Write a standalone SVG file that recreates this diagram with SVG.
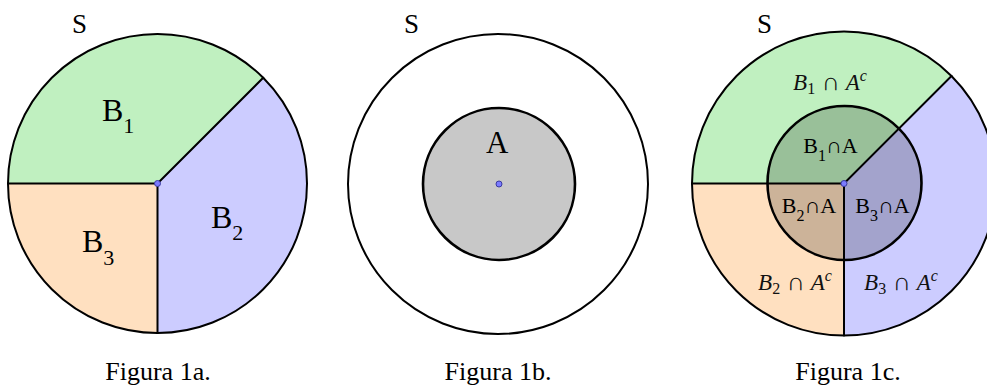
<svg xmlns="http://www.w3.org/2000/svg" width="987" height="388" viewBox="0 0 987 388">
<style>
.edge{fill:none;stroke:#000;stroke-width:2;stroke-linecap:round}
.outer{stroke:#000;stroke-width:2}
.inner{stroke:#000;stroke-width:2.6}
.g{fill:#c0f0c0}.b{fill:#ccccff}.o{fill:#ffe0c0}
.shade{fill:#000;fill-opacity:0.2}
.dot{fill:#7b7bff;stroke:#3a3aa0;stroke-width:1}
.lbl{font-family:"Liberation Serif",serif;fill:#000}
.math{font-family:"Liberation Serif",serif;fill:#111}
.cap{font-family:"Liberation Serif",serif;font-size:26px;fill:#000;text-anchor:middle}
</style>
<rect width="987" height="388" fill="#fff"/>

<g id="fig1a">
  <path class="g" d="M157.5,183.5 L8,183.5 A149.5,149.5 0 0 1 263.2,77.8 Z"/>
  <path class="b" d="M157.5,183.5 L263.2,77.8 A149.5,149.5 0 0 1 157.5,333 Z"/>
  <path class="o" d="M157.5,183.5 L157.5,333 A149.5,149.5 0 0 1 8,183.5 Z"/>
  <circle cx="157.5" cy="183.5" r="149.5" fill="none" class="outer"/>
  <text class="lbl" x="72" y="33" font-size="27">S</text>
  <text class="lbl" x="102" y="121" font-size="32">B<tspan font-size="22" dy="12">1</tspan></text>
  <text class="lbl" x="211" y="228" font-size="32">B<tspan font-size="22" dy="12">2</tspan></text>
  <text class="lbl" x="82" y="252" font-size="32">B<tspan font-size="22" dy="13">3</tspan></text>
</g>

<g id="fig1b">
  <circle cx="498" cy="184" r="150" fill="#fff" class="outer"/>
  <circle cx="499" cy="184" r="76" fill="#c8c8c8" class="inner"/>
  <text class="lbl" x="404" y="33" font-size="27">S</text>
  <text class="lbl" x="486" y="153" font-size="31" fill="#222">A</text>
</g>

<g id="fig1c">
  <path class="g" d="M844,183.5 L692,183.5 A152,152 0 0 1 951.5,76 Z"/>
  <path class="b" d="M844,183.5 L951.5,76 A152,152 0 0 1 844,335.5 Z"/>
  <path class="o" d="M844,183.5 L844,335.5 A152,152 0 0 1 692,183.5 Z"/>
  <circle cx="844" cy="183.5" r="152" fill="none" class="outer"/>
  <circle class="shade" cx="844.5" cy="183" r="77"/>
  <text class="lbl" x="757" y="33" font-size="27">S</text>
  <text class="math" x="830" y="90" font-size="23" text-anchor="middle"><tspan font-style="italic">B</tspan><tspan font-size="16" dy="4">1</tspan><tspan dy="-4" font-size="25"> ∩ </tspan><tspan font-style="italic">A</tspan><tspan font-style="italic" font-size="16" dy="-9">c</tspan></text>
  <text class="math" x="795" y="290" font-size="23" text-anchor="middle"><tspan font-style="italic">B</tspan><tspan font-size="16" dy="4">2</tspan><tspan dy="-4" font-size="25"> ∩ </tspan><tspan font-style="italic">A</tspan><tspan font-style="italic" font-size="16" dy="-9">c</tspan></text>
  <text class="math" x="901" y="290" font-size="23" text-anchor="middle"><tspan font-style="italic">B</tspan><tspan font-size="16" dy="4">3</tspan><tspan dy="-4" font-size="25"> ∩ </tspan><tspan font-style="italic">A</tspan><tspan font-style="italic" font-size="16" dy="-9">c</tspan></text>
  <text class="lbl" x="830.5" y="153" font-size="22" text-anchor="middle">B<tspan font-size="16" dy="8">1</tspan><tspan dy="-8">∩A</tspan></text>
  <text class="lbl" x="809" y="213" font-size="22" text-anchor="middle">B<tspan font-size="16" dy="8">2</tspan><tspan dy="-8">∩A</tspan></text>
  <text class="lbl" x="882.5" y="213" font-size="22" text-anchor="middle">B<tspan font-size="16" dy="8">3</tspan><tspan dy="-8">∩A</tspan></text>
</g>

<g id="connectors">
  <path class="edge" d="M8,183.5 L157.5,183.5 L263.2,77.8 M157.5,183.5 L157.5,333"/>
  <path class="edge" d="M692,183.5 L844,183.5 L951.5,76 M844,183.5 L844,335.5"/>
  <circle cx="844.5" cy="183" r="77" fill="none" class="inner"/>
  <circle class="dot" cx="157.5" cy="183.5" r="3"/>
  <circle class="dot" cx="499" cy="184" r="3"/>
  <circle class="dot" cx="844" cy="183.5" r="3"/>
</g>

<g id="captions">
  <text class="cap" x="158" y="380">Figura 1a.</text>
  <text class="cap" x="498" y="380">Figura 1b.</text>
  <text class="cap" x="848" y="380">Figura 1c.</text>
</g>
</svg>
